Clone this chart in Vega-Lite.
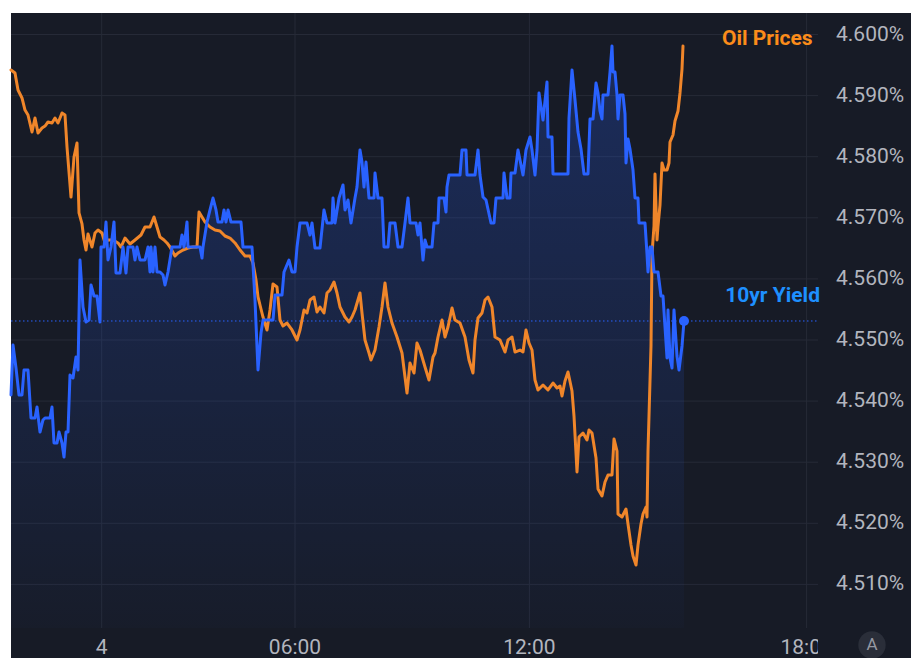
{
  "$schema": "https://vega.github.io/schema/vega-lite/v6.json",
  "width": 900,
  "height": 645,
  "autosize": {"type": "none"},
  "padding": {"left": 11, "top": 13, "right": 0, "bottom": 0},
  "background": "#ffffff",
  "config": {"view": {"fill": "#171b26", "stroke": null}, "font": "Roboto"},
  "datasets": {
    "oil": [
      {"i":0,"v":4.59419},{"i":1,"v":4.5937},{"i":1.75,"v":4.59092},{"i":2.75,"v":4.58961},{"i":3.5,"v":4.58764},{"i":4.25,"v":4.58683},{"i":5.25,"v":4.58404},{"i":6,"v":4.58633},{"i":6.75,"v":4.58388},{"i":7.75,"v":4.5847},{"i":8.5,"v":4.58502},{"i":9.25,"v":4.58568},{"i":10.25,"v":4.58552},{"i":11,"v":4.58633},{"i":11.75,"v":4.58552},{"i":12.75,"v":4.58715},{"i":13.5,"v":4.58683},{"i":14,"v":4.58159},{"i":15,"v":4.5734},{"i":15.75,"v":4.57995},{"i":16.5,"v":4.58224},{"i":17,"v":4.57079},{"i":17.75,"v":4.56899},{"i":18.25,"v":4.56637},{"i":18.75,"v":4.56473},{"i":19.25,"v":4.56735},{"i":20.25,"v":4.56522},{"i":21,"v":4.56751},{"i":21.75,"v":4.568},{"i":22.75,"v":4.56751},{"i":23.5,"v":4.56588},{"i":24.25,"v":4.56637},{"i":25.5,"v":4.56637},{"i":26.75,"v":4.56588},{"i":27.5,"v":4.56522},{"i":28.5,"v":4.56669},{"i":29.75,"v":4.56571},{"i":31,"v":4.56637},{"i":32.5,"v":4.56718},{"i":33.5,"v":4.56849},{"i":34.75,"v":4.56849},{"i":35.75,"v":4.57013},{"i":36.5,"v":4.56849},{"i":37.25,"v":4.56686},{"i":38.25,"v":4.56637},{"i":39,"v":4.56588},{"i":39.75,"v":4.56522},{"i":41,"v":4.56375},{"i":41.75,"v":4.56424},{"i":43,"v":4.56473},{"i":44.25,"v":4.56506},{"i":45.5,"v":4.56522},{"i":46.5,"v":4.56522},{"i":47,"v":4.57095},{"i":47.75,"v":4.57013},{"i":48.5,"v":4.56931},{"i":49.75,"v":4.56849},{"i":51,"v":4.568},{"i":52.25,"v":4.56784},{"i":53.5,"v":4.56702},{"i":54.75,"v":4.56669},{"i":56,"v":4.56588},{"i":57.25,"v":4.56473},{"i":58.5,"v":4.56375},{"i":59.75,"v":4.56375},{"i":60.5,"v":4.5626},{"i":61.25,"v":4.55982},{"i":61.75,"v":4.55704},{"i":62.25,"v":4.55573},{"i":63,"v":4.55376},{"i":64,"v":4.55164},{"i":64.75,"v":4.55491},{"i":65.5,"v":4.55916},{"i":66.5,"v":4.55867},{"i":67.25,"v":4.55327},{"i":68,"v":4.55229},{"i":69,"v":4.55278},{"i":70.25,"v":4.55164},{"i":71.5,"v":4.55},{"i":72.25,"v":4.55164},{"i":73.25,"v":4.55491},{"i":74,"v":4.55442},{"i":74.75,"v":4.55655},{"i":75.75,"v":4.55704},{"i":76.5,"v":4.55458},{"i":77.25,"v":4.5554},{"i":78.25,"v":4.55442},{"i":79,"v":4.55769},{"i":79.75,"v":4.55818},{"i":80.75,"v":4.55949},{"i":81.5,"v":4.55769},{"i":82.25,"v":4.5554},{"i":83.5,"v":4.55376},{"i":84.5,"v":4.55295},{"i":85.25,"v":4.55376},{"i":86,"v":4.55491},{"i":87.25,"v":4.55769},{"i":87.75,"v":4.55442},{"i":88.5,"v":4.55},{"i":89.5,"v":4.54787},{"i":90,"v":4.54673},{"i":91,"v":4.54836},{"i":92,"v":4.55213},{"i":92.75,"v":4.5554},{"i":93.5,"v":4.55933},{"i":94.25,"v":4.5554},{"i":95.25,"v":4.55278},{"i":96.5,"v":4.55049},{"i":97.75,"v":4.54787},{"i":99,"v":4.54132},{"i":99.75,"v":4.54624},{"i":100.75,"v":4.5446},{"i":101.5,"v":4.54951},{"i":102.25,"v":4.54836},{"i":103.5,"v":4.54558},{"i":104.5,"v":4.54345},{"i":105.5,"v":4.54722},{"i":106,"v":4.54787},{"i":106.75,"v":4.55049},{"i":107.75,"v":4.55327},{"i":108.5,"v":4.55049},{"i":109.25,"v":4.55213},{"i":110.25,"v":4.55524},{"i":111,"v":4.55327},{"i":112.25,"v":4.55278},{"i":113.5,"v":4.55049},{"i":114.5,"v":4.54673},{"i":115.5,"v":4.5446},{"i":116,"v":4.55},{"i":116.75,"v":4.5536},{"i":117.75,"v":4.55442},{"i":118.5,"v":4.55655},{"i":119.25,"v":4.55704},{"i":120.25,"v":4.5554},{"i":121,"v":4.55049},{"i":122.25,"v":4.55},{"i":123.5,"v":4.54803},{"i":124.25,"v":4.55},{"i":125.25,"v":4.55049},{"i":126,"v":4.54803},{"i":127.25,"v":4.54836},{"i":128,"v":4.54803},{"i":128.75,"v":4.55164},{"i":129.5,"v":4.54951},{"i":130.25,"v":4.54836},{"i":131,"v":4.54345},{"i":131.75,"v":4.54182},{"i":133,"v":4.54263},{"i":134.25,"v":4.54182},{"i":135.5,"v":4.54296},{"i":136.5,"v":4.54214},{"i":137.25,"v":4.54247},{"i":137.75,"v":4.54083},{"i":138.5,"v":4.54329},{"i":139.25,"v":4.54476},{"i":140.25,"v":4.54165},{"i":140.75,"v":4.53756},{"i":141.5,"v":4.52839},{"i":142,"v":4.53412},{"i":143,"v":4.53478},{"i":144,"v":4.53363},{"i":144.5,"v":4.53527},{"i":145.25,"v":4.53478},{"i":146.25,"v":4.53069},{"i":146.75,"v":4.52561},{"i":147.75,"v":4.52447},{"i":148.5,"v":4.52676},{"i":149.25,"v":4.5279},{"i":150.25,"v":4.5279},{"i":150.75,"v":4.5338},{"i":151.5,"v":4.53183},{"i":151.75,"v":4.52152},{"i":152.75,"v":4.52103},{"i":153.75,"v":4.52234},{"i":154.25,"v":4.51988},{"i":155,"v":4.51645},{"i":155.5,"v":4.51465},{"i":156.25,"v":4.51317},{"i":156.75,"v":4.51645},{"i":157.5,"v":4.51988},{"i":158,"v":4.52152},{"i":158.75,"v":4.52267},{"i":159,"v":4.52103},{"i":159.25,"v":4.53183},{"i":160,"v":4.54902},{"i":160.25,"v":4.56407},{"i":160.75,"v":4.56866},{"i":161,"v":4.57717},{"i":161.5,"v":4.56637},{"i":161.75,"v":4.56866},{"i":162.25,"v":4.57209},{"i":162.75,"v":4.57897},{"i":163.25,"v":4.57782},{"i":164,"v":4.57782},{"i":164.5,"v":4.57897},{"i":164.75,"v":4.58241},{"i":165.5,"v":4.58355},{"i":166,"v":4.58584},{"i":166.75,"v":4.58748},{"i":167.25,"v":4.59043},{"i":167.75,"v":4.59435},{"i":168,"v":4.59812}
    ],
    "yld": [
      {"i":0,"v":4.541},{"i":0.5,"v":4.54918},{"i":1.25,"v":4.54542},{"i":2,"v":4.541},{"i":2.75,"v":4.541},{"i":3.25,"v":4.54509},{"i":4.25,"v":4.54509},{"i":5,"v":4.53723},{"i":6,"v":4.53723},{"i":6.5,"v":4.53903},{"i":7.25,"v":4.53494},{"i":8,"v":4.53691},{"i":8.5,"v":4.53723},{"i":9.75,"v":4.53723},{"i":10.25,"v":4.53903},{"i":10.75,"v":4.53314},{"i":11.5,"v":4.53314},{"i":12,"v":4.53494},{"i":12.75,"v":4.53314},{"i":13.25,"v":4.53085},{"i":13.75,"v":4.53494},{"i":14.25,"v":4.53494},{"i":14.75,"v":4.54427},{"i":15.5,"v":4.54378},{"i":16.25,"v":4.54722},{"i":16.75,"v":4.54509},{"i":17.25,"v":4.56309},{"i":18,"v":4.5554},{"i":18.75,"v":4.55295},{"i":19.5,"v":4.55327},{"i":20,"v":4.559},{"i":20.75,"v":4.5572},{"i":21.5,"v":4.5572},{"i":22.25,"v":4.55295},{"i":22.5,"v":4.56522},{"i":23.25,"v":4.56522},{"i":23.75,"v":4.56931},{"i":24.25,"v":4.56309},{"i":25,"v":4.56522},{"i":25.75,"v":4.56931},{"i":26.25,"v":4.56097},{"i":27.25,"v":4.56097},{"i":28,"v":4.56522},{"i":28.75,"v":4.56097},{"i":29.25,"v":4.56522},{"i":30.5,"v":4.56522},{"i":31,"v":4.56309},{"i":31.5,"v":4.56522},{"i":32.25,"v":4.56309},{"i":33.5,"v":4.56309},{"i":34.25,"v":4.56522},{"i":34.75,"v":4.56113},{"i":35,"v":4.56522},{"i":35.5,"v":4.56113},{"i":36,"v":4.56522},{"i":36.5,"v":4.56113},{"i":37.25,"v":4.56113},{"i":38,"v":4.56064},{"i":38.5,"v":4.559},{"i":39.25,"v":4.56113},{"i":40.25,"v":4.56522},{"i":42.25,"v":4.56522},{"i":42.75,"v":4.56718},{"i":43.25,"v":4.56522},{"i":44,"v":4.56931},{"i":44.25,"v":4.56522},{"i":46,"v":4.56522},{"i":47.25,"v":4.56522},{"i":47.75,"v":4.56342},{"i":48,"v":4.56522},{"i":49,"v":4.56931},{"i":49.75,"v":4.57128},{"i":50.5,"v":4.57324},{"i":51.25,"v":4.57128},{"i":51.75,"v":4.56931},{"i":52.75,"v":4.56931},{"i":53.25,"v":4.57128},{"i":53.75,"v":4.56931},{"i":54.25,"v":4.57128},{"i":55,"v":4.56931},{"i":57.5,"v":4.56931},{"i":58,"v":4.56522},{"i":60.25,"v":4.56522},{"i":61,"v":4.55655},{"i":61.75,"v":4.54509},{"i":62.5,"v":4.55115},{"i":63,"v":4.55327},{"i":65.5,"v":4.55327},{"i":66,"v":4.55736},{"i":67.75,"v":4.55736},{"i":68.25,"v":4.56113},{"i":69.5,"v":4.56309},{"i":70.25,"v":4.56113},{"i":71,"v":4.56113},{"i":71.5,"v":4.56522},{"i":72.25,"v":4.56915},{"i":74,"v":4.56915},{"i":74.75,"v":4.56718},{"i":75.25,"v":4.56915},{"i":76,"v":4.56506},{"i":77.25,"v":4.56506},{"i":78.25,"v":4.57128},{"i":79,"v":4.56915},{"i":80.25,"v":4.56915},{"i":80.5,"v":4.57324},{"i":81,"v":4.56915},{"i":82,"v":4.57324},{"i":83,"v":4.57537},{"i":83.5,"v":4.57128},{"i":84.25,"v":4.57291},{"i":85,"v":4.56915},{"i":86,"v":4.57324},{"i":86.5,"v":4.57504},{"i":87.25,"v":4.5811},{"i":87.75,"v":4.57913},{"i":88.25,"v":4.57504},{"i":88.75,"v":4.57913},{"i":89.5,"v":4.57324},{"i":90.75,"v":4.57324},{"i":91,"v":4.57733},{"i":91.75,"v":4.57324},{"i":92.75,"v":4.57324},{"i":93.25,"v":4.56522},{"i":94.25,"v":4.56522},{"i":94.75,"v":4.56915},{"i":96,"v":4.56915},{"i":96.75,"v":4.56522},{"i":97.75,"v":4.56522},{"i":98.5,"v":4.56915},{"i":99.25,"v":4.57324},{"i":99.75,"v":4.56915},{"i":101.25,"v":4.56915},{"i":101.75,"v":4.56718},{"i":102.25,"v":4.56915},{"i":103,"v":4.56309},{"i":103.5,"v":4.56637},{"i":104,"v":4.56522},{"i":105.25,"v":4.56522},{"i":105.75,"v":4.56915},{"i":106.75,"v":4.56915},{"i":107,"v":4.57324},{"i":108.25,"v":4.57324},{"i":108.75,"v":4.57095},{"i":109,"v":4.57504},{"i":109.5,"v":4.577},{"i":112.25,"v":4.577},{"i":112.75,"v":4.5811},{"i":113.75,"v":4.5811},{"i":114,"v":4.577},{"i":116,"v":4.577},{"i":116.75,"v":4.5811},{"i":117.25,"v":4.577},{"i":118,"v":4.5734},{"i":118.75,"v":4.57291},{"i":120,"v":4.56915},{"i":120.75,"v":4.56915},{"i":121.25,"v":4.57324},{"i":123,"v":4.57324},{"i":123.25,"v":4.57733},{"i":124,"v":4.57324},{"i":124.75,"v":4.57324},{"i":125,"v":4.57733},{"i":126,"v":4.57733},{"i":126.75,"v":4.5811},{"i":127.25,"v":4.57946},{"i":128,"v":4.577},{"i":128.75,"v":4.5811},{"i":129.75,"v":4.58322},{"i":130.25,"v":4.5811},{"i":131,"v":4.577},{"i":131.5,"v":4.5811},{"i":132,"v":4.59043},{"i":133,"v":4.58601},{"i":134,"v":4.59223},{"i":134.25,"v":4.58322},{"i":135.25,"v":4.58322},{"i":135.5,"v":4.57717},{"i":139.25,"v":4.57717},{"i":139.5,"v":4.58633},{"i":140.25,"v":4.59419},{"i":141,"v":4.58928},{"i":141.75,"v":4.58404},{"i":142.5,"v":4.58126},{"i":143.25,"v":4.57717},{"i":144.25,"v":4.57717},{"i":144.75,"v":4.58617},{"i":145.5,"v":4.58617},{"i":146.25,"v":4.59206},{"i":146.75,"v":4.59043},{"i":147.25,"v":4.58748},{"i":147.75,"v":4.58617},{"i":148,"v":4.5901},{"i":149.25,"v":4.5901},{"i":149.75,"v":4.59386},{"i":150.25,"v":4.59812},{"i":150.5,"v":4.59386},{"i":151,"v":4.59386},{"i":151.5,"v":4.5901},{"i":151.75,"v":4.58617},{"i":152.25,"v":4.5901},{"i":153,"v":4.5901},{"i":153.5,"v":4.58699},{"i":153.75,"v":4.57897},{"i":154.25,"v":4.5829},{"i":154.75,"v":4.58126},{"i":155.5,"v":4.57782},{"i":156,"v":4.57324},{"i":156.75,"v":4.57324},{"i":157,"v":4.56915},{"i":158.5,"v":4.56915},{"i":159,"v":4.56407},{"i":159.25,"v":4.56113},{"i":159.75,"v":4.56522},{"i":160.25,"v":4.56522},{"i":160.75,"v":4.56113},{"i":161.75,"v":4.56113},{"i":162.5,"v":4.5572},{"i":163,"v":4.5572},{"i":164,"v":4.54705},{"i":164.25,"v":4.55491},{"i":164.75,"v":4.54705},{"i":165.25,"v":4.54542},{"i":165.75,"v":4.55491},{"i":166.5,"v":4.54738},{"i":167,"v":4.54509},{"i":167.75,"v":4.54902},{"i":168.25,"v":4.55311}
    ],
    "gridY": [
      {"v":4.51,"a":0,"b":201.75,"lx":206.25,"t":"4.510%"},{"v":4.52,"a":0,"b":201.75,"lx":206.25,"t":"4.520%"},{"v":4.53,"a":0,"b":201.75,"lx":206.25,"t":"4.530%"},{"v":4.54,"a":0,"b":201.75,"lx":206.25,"t":"4.540%"},{"v":4.55,"a":0,"b":201.75,"lx":206.25,"t":"4.550%"},{"v":4.56,"a":0,"b":201.75,"lx":206.25,"t":"4.560%"},{"v":4.57,"a":0,"b":201.75,"lx":206.25,"t":"4.570%"},{"v":4.58,"a":0,"b":201.75,"lx":206.25,"t":"4.580%"},{"v":4.59,"a":0,"b":201.75,"lx":206.25,"t":"4.590%"},{"v":4.6,"a":0,"b":201.75,"lx":206.25,"t":"4.600%"}
    ],
    "gridX": [
      {"i":22.675,"top":4.603519,"bot":4.50286,"ly":4.4996,"t":"4"},
      {"i":71,"top":4.603519,"bot":4.50286,"ly":4.4996,"t":"06:00"},
      {"i":129.6,"top":4.603519,"bot":4.50286,"ly":4.4996,"t":"12:00"},
      {"i":198.9,"top":4.603519,"bot":4.50286,"ly":4.4996,"t":"18:00"}
    ],
    "pane": [{"a":201.75,"b":225,"top":4.603519,"bot":4.497954}],
    "cur": [{"v":4.55311,"a":0,"b":201.75}],
    "labels": [
      {"i":200.4,"v":4.5992,"label":"Oil Prices","s":"Oil Prices"},
      {"i":202.25,"v":4.5572,"label":"10yr Yield","s":"10yr Yield"}
    ],
    "last": [{"i":168.25,"v":4.55311}],
    "badge": [{"i":215.25,"v":4.50008,"label":"A"}]
  },
  "encoding": {
    "x": {"type": "quantitative", "scale": {"domain": [0, 225], "nice": false, "zero": false}, "axis": null},
    "y": {"type": "quantitative", "scale": {"domain": [4.497954, 4.603519], "nice": false, "zero": false}, "axis": null}
  },
  "layer": [
    {
      "data": {"name": "gridY"},
      "mark": {"type": "rule", "color": "#262a37", "strokeWidth": 1},
      "encoding": {
        "x": {"field": "a", "type": "quantitative", "axis": null},
        "x2": {"field": "b"},
        "y": {"field": "v", "type": "quantitative", "axis": null}
      }
    },
    {
      "data": {"name": "gridX"},
      "mark": {"type": "rule", "color": "#262a37", "strokeWidth": 1},
      "encoding": {
        "x": {"field": "i", "type": "quantitative", "axis": null},
        "y": {"field": "top", "type": "quantitative", "axis": null},
        "y2": {"field": "bot"}
      }
    },
    {
      "data": {"name": "yld"},
      "mark": {
        "type": "area",
        "color": {
          "gradient": "linear", "x1": 0, "y1": 0, "x2": 0, "y2": 1,
          "stops": [
            {"offset": 0, "color": "rgba(41,98,255,0.25)"},
            {"offset": 1, "color": "rgba(41,98,255,0.02)"}
          ]
        }
      },
      "encoding": {
        "x": {"field": "i", "type": "quantitative", "axis": null},
        "y": {"field": "v", "type": "quantitative", "axis": null},
        "y2": {"datum": 4.50286}
      }
    },
    {
      "data": {"name": "cur"},
      "mark": {"type": "rule", "color": "#2962ff", "strokeWidth": 1, "strokeDash": [1.5, 2.5]},
      "encoding": {
        "x": {"field": "a", "type": "quantitative", "axis": null},
        "x2": {"field": "b"},
        "y": {"field": "v", "type": "quantitative", "axis": null}
      }
    },
    {
      "data": {"name": "oil"},
      "mark": {"type": "line", "color": "#f0862a", "strokeWidth": 3, "strokeJoin": "round", "strokeCap": "round"},
      "encoding": {
        "x": {"field": "i", "type": "quantitative", "axis": null},
        "y": {"field": "v", "type": "quantitative", "axis": null}
      }
    },
    {
      "data": {"name": "yld"},
      "mark": {"type": "line", "color": "#2962ff", "strokeWidth": 3, "strokeJoin": "round", "strokeCap": "round"},
      "encoding": {
        "x": {"field": "i", "type": "quantitative", "axis": null},
        "y": {"field": "v", "type": "quantitative", "axis": null}
      }
    },
    {
      "data": {"name": "last"},
      "mark": {"type": "point", "filled": true, "color": "#2962ff", "opacity": 1, "size": 100},
      "encoding": {
        "x": {"field": "i", "type": "quantitative", "axis": null},
        "y": {"field": "v", "type": "quantitative", "axis": null}
      }
    },
    {
      "data": {"name": "gridX"},
      "mark": {"type": "text", "align": "center", "baseline": "middle", "fontSize": 21, "color": "#b2b5be", "font": "Roboto"},
      "encoding": {
        "x": {"field": "i", "type": "quantitative", "axis": null},
        "y": {"field": "ly", "type": "quantitative", "axis": null},
        "text": {"field": "t"}
      }
    },
    {
      "data": {"name": "pane"},
      "mark": {"type": "rect", "color": "#171b26", "opacity": 1},
      "encoding": {
        "x": {"field": "a", "type": "quantitative", "axis": null},
        "x2": {"field": "b"},
        "y": {"field": "top", "type": "quantitative", "axis": null},
        "y2": {"field": "bot"}
      }
    },
    {
      "data": {"name": "gridY"},
      "mark": {"type": "text", "align": "left", "baseline": "middle", "fontSize": 21, "color": "#b2b5be", "font": "Roboto"},
      "encoding": {
        "x": {"field": "lx", "type": "quantitative", "axis": null},
        "y": {"field": "v", "type": "quantitative", "axis": null},
        "text": {"field": "t"}
      }
    },
    {
      "data": {"name": "labels"},
      "mark": {"type": "text", "align": "right", "baseline": "middle", "fontWeight": "bold", "fontSize": 21, "font": "Roboto"},
      "encoding": {
        "x": {"field": "i", "type": "quantitative", "axis": null},
        "y": {"field": "v", "type": "quantitative", "axis": null},
        "text": {"field": "label"},
        "color": {
          "field": "s", "type": "nominal", "legend": null,
          "scale": {"domain": ["Oil Prices", "10yr Yield"], "range": ["#fb8c1a", "#1e90ff"]}
        }
      }
    },
    {
      "data": {"name": "badge"},
      "mark": {"type": "point", "filled": true, "color": "#2a2e39", "opacity": 1, "size": 750},
      "encoding": {
        "x": {"field": "i", "type": "quantitative", "axis": null},
        "y": {"field": "v", "type": "quantitative", "axis": null}
      }
    },
    {
      "data": {"name": "badge"},
      "mark": {"type": "text", "align": "center", "baseline": "middle", "fontSize": 17, "color": "#9598a1", "font": "Roboto"},
      "encoding": {
        "x": {"field": "i", "type": "quantitative", "axis": null},
        "y": {"field": "v", "type": "quantitative", "axis": null},
        "text": {"field": "label"}
      }
    }
  ]
}
